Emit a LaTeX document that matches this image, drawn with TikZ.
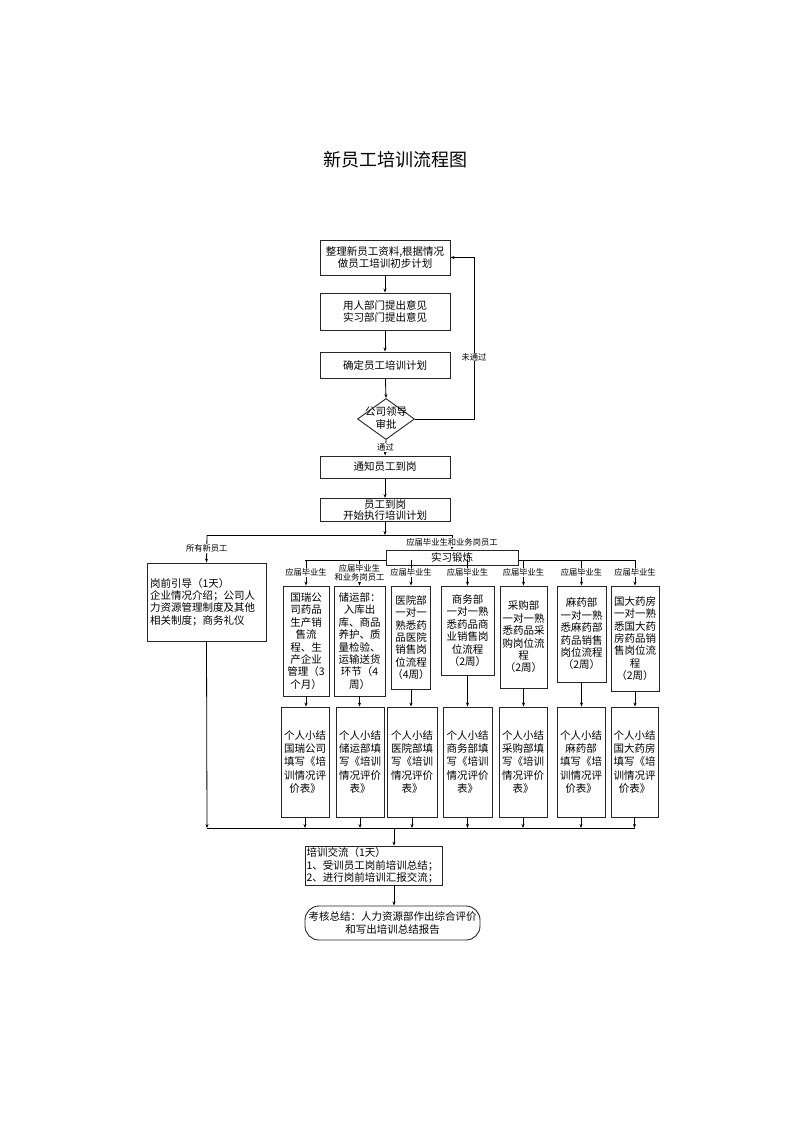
\documentclass[tikz,border=0pt]{standalone}
\usepackage{fontspec}
\setmainfont{Noto Sans CJK SC}
\usetikzlibrary{arrows.meta,shapes.geometric,calc}
\tikzset{
  boxs/.style={draw=black!85, line width=0.9pt, fill=white, inner sep=1pt, align=center,
    font={\fontsize{10.5}{12.4}\selectfont}},
  lbl/.style={fill=white, inner sep=0.6pt, align=center, font={\fontsize{8.3}{10}\selectfont}},
  arr/.style={-{Stealth[length=4pt,width=3pt]}, line width=0.8pt},
  ln/.style={line width=0.8pt},
}
\newcommand\mybox[7][]{%
  \node[boxs,minimum width={(#4-#2)*1pt},minimum height={(#5-#3)*1pt},#1] (#6)
    at ({(#2+#4)/2},{(#3+#5)/2}) {#7};}
\begin{document}
\begin{tikzpicture}[x=1pt,y=-1pt]
\useasboundingbox[fill=white] (0,0) rectangle (793,1122);
\node[font={\fontsize{18}{20}\selectfont}] (title) at (395,160) {新员工培训流程图};
% main column
\mybox{320}{240}{450}{275}{b1}{整理新员工资料,根据情况\\做员工培训初步计划}
\mybox{320}{293}{450}{330}{b2}{用人部门提出意见\\实习部门提出意见}
\mybox{320}{352}{450}{378}{b3}{确定员工培训计划}
\node[diamond, draw=black!85, line width=0.9pt, fill=white, minimum width=57pt, minimum height=41pt, inner sep=0pt] (dia) at (386,419) {};
\node[align=center, inner sep=0pt, font={\fontsize{10.5}{12.6}\selectfont}] (diat) at (386,418) {公司领导\\审批};
\mybox{320}{456}{450}{478}{b4}{通知员工到岗}
\mybox[font={\fontsize{10.5}{11.5}\selectfont}]{320}{499}{450}{521}{b5}{员工到岗\\开始执行培训计划}
\draw[arr] (b1) -- (b2);
\draw[arr] (b2) -- (b3);
\draw[arr] (b3) -- (dia.north);
\draw[arr] (dia.south) -- (b4.north) node[lbl, midway] {通过};
\coordinate (lp) at (474,419);
\draw[arr] (dia.east) -- (lp) -- (lp |- b1.east) -- (b1.east);
\node[lbl] (nlbl) at (474,357) {未通过};
\draw[arr] (b4) -- (b5);
% split
\coordinate (t1) at (207,535);
\coordinate (t2) at (452,535);
\draw[ln] (t1) -- (t2);
\draw[arr] (b5.south) -- (b5.south |- t1);
% left box
\node[boxs, minimum width=119pt, minimum height=78pt, text width=113pt, align=left, inner sep=3pt] (left) at (206.5,602) {岗前引导（1天）\\企业情况介绍；公司人\\力资源管理制度及其他\\相关制度；商务礼仪};
\draw[arr] (t1) -- (left.north) node[lbl, midway] {所有新员工};
% branch line
\coordinate (bL) at (305,560);
\coordinate (bR) at (635,560);
\draw[ln] (bL) -- (bR);
\mybox{386}{550}{518}{565}{sx}{实习锻炼}
\draw[arr] (t2) -- (t2 |- sx.north) node[lbl, midway] {应届毕业生和业务岗员工};
% column boxes
\mybox{283}{586}{329}{696}{c1}{国瑞公\\司药品\\生产销\\售流\\程、生\\产企业\\管理（3\\个月）}
\mybox{334}{586}{385}{696}{c2}{储运部：\\入库出\\库、商品\\养护、质\\量检验、\\运输送货\\环节（4\\周）}
\mybox{392}{586}{430}{689}{c3}{医院部\\一对一\\熟悉药\\品医院\\销售岗\\位流程\\（4周）}
\mybox{441}{586}{494}{675}{c4}{商务部\\一对一熟\\悉药品商\\业销售岗\\位流程\\（2周）}
\mybox{500}{586}{547}{688}{c5}{采购部\\一对一熟\\悉药品采\\购岗位流\\程\\（2周）}
\mybox{557}{586}{606}{682}{c6}{麻药部\\一对一熟\\悉麻药部\\药品销售\\岗位流程\\（2周）}
\mybox{611}{586}{659}{691}{c7}{国大药房\\一对一熟\\悉国大药\\房药品销\\售岗位流\\程\\（2周）}
\foreach \c in {c1,c3,c4,c5,c6,c7}{
  \draw[arr] (\c.north |- bL) -- (\c.north) node[lbl, midway] {应届毕业生};
}
\draw[arr] (c2.north |- bL) -- (c2.north) node[lbl, midway, font={\fontsize{8.3}{9.6}\selectfont}] {应届毕业生\\和业务岗员工};
% lower boxes
\tikzset{boxs/.append style={font={\fontsize{10.5}{13.3}\selectfont}}}
\mybox{281}{707}{329}{817}{l1}{个人小结\\国瑞公司\\填写《培\\训情况评\\价表》}
\mybox{336}{707}{384}{817}{l2}{个人小结\\储运部填\\写《培训\\情况评价\\表》}
\mybox{387}{707}{437}{817}{l3}{个人小结\\医院部填\\写《培训\\情况评价\\表》}
\mybox{443}{707}{492}{817}{l4}{个人小结\\商务部填\\写《培训\\情况评价\\表》}
\mybox{499}{707}{547}{817}{l5}{个人小结\\采购部填\\写《培训\\情况评价\\表》}
\mybox{557}{707}{605}{817}{l6}{个人小结\\麻药部\\填写《培\\训情况评\\价表》}
\mybox{611}{707}{658}{817}{l7}{个人小结\\国大药房\\填写《培\\训情况评\\价表》}
\foreach \i in {1,...,7}{
  \draw[arr] (c\i.south) -- (c\i.south |- l\i.north);
}
% bottom line
\coordinate (bl) at (207,828);
\coordinate (br) at (635,828);
\draw[ln] (bl) -- (br);
\draw[arr] (left.south) -- (bl);
\foreach \i in {1,...,7}{
  \draw[arr] (l\i.south) -- (l\i.south |- bl);
}
\coordinate (j3) at (394,828);
\node[boxs, minimum width=137pt, minimum height=35pt, text width=134pt, align=left, inner sep=1.5pt, font={\fontsize{10.5}{12.6}\selectfont}] (px) at (373.5,865.5) {培训交流（1天）\\1、受训员工岗前培训总结；\\2、进行岗前培训汇报交流；};
\draw[arr] (j3) -- (j3 |- px.north);
\node[boxs, rounded corners=14pt, minimum width=175pt, minimum height=34pt, inner sep=0.5pt] (fin) at (392.5,923) {考核总结：人力资源部作出综合评价\\和写出培训总结报告};
\draw[arr] (px.south -| j3) -- (fin.north -| j3);
\end{tikzpicture}
\end{document}
